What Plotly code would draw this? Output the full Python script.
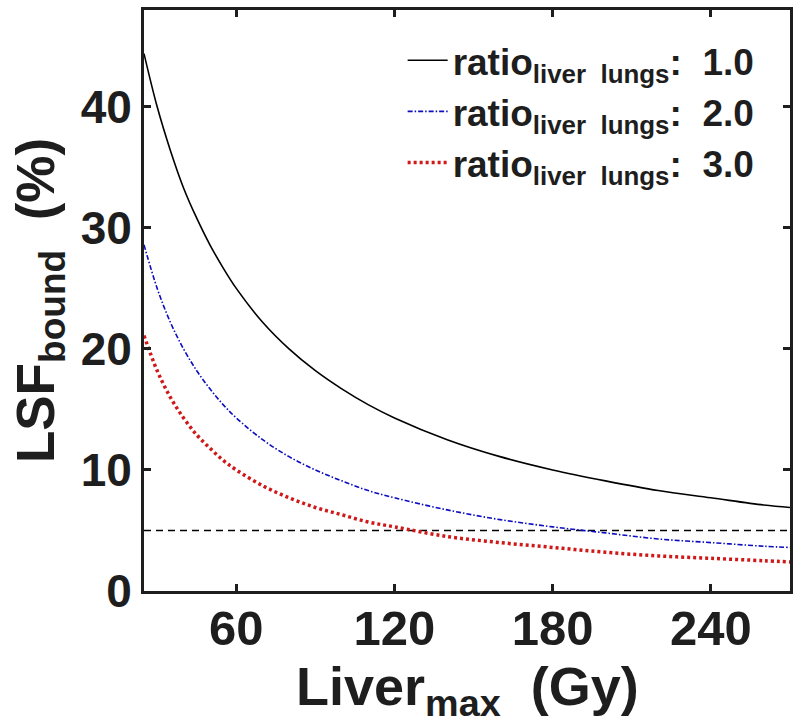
import plotly.graph_objects as go

# Liver_max (Gy)
liver_max = [25, 30, 35, 40, 45, 50, 55, 60, 70, 80, 90, 100, 110, 120, 140, 160, 180, 200, 220, 240, 260, 270]
# LSF_bound (%) for each ratio
lsf_ratio1 = [44.4, 40.0, 36.4, 33.3, 30.8, 28.6, 26.7, 25.0, 22.2, 20.0, 18.2, 16.7, 15.4, 14.3, 12.5, 11.1, 10.0, 9.1, 8.3, 7.7, 7.1, 6.9]
lsf_ratio2 = [28.6, 25.0, 22.2, 20.0, 18.2, 16.7, 15.4, 14.3, 12.5, 11.1, 10.0, 9.1, 8.3, 7.7, 6.7, 5.9, 5.3, 4.8, 4.3, 4.0, 3.7, 3.6]
lsf_ratio3 = [21.1, 18.2, 16.0, 14.3, 12.9, 11.8, 10.8, 10.0, 8.7, 7.7, 6.9, 6.3, 5.7, 5.3, 4.5, 4.0, 3.6, 3.2, 2.9, 2.7, 2.5, 2.4]
threshold_x = [25, 270]
threshold_y = [5, 5]

labels = ["1.0", "2.0", "3.0"]
x_ticks = [60, 120, 180, 240]
y_ticks = [0, 10, 20, 30, 40]

FONT = "Liberation Sans, Arial, sans-serif"
TXT = "#1e1e1e"

fig = go.Figure()
fig.add_trace(go.Scatter(x=threshold_x, y=threshold_y, mode="lines", showlegend=False,
                         line=dict(color="black", width=1.5, dash="7px,5px")))
fig.add_trace(go.Scatter(x=liver_max, y=lsf_ratio1, mode="lines", line_shape="spline",
                         name=f"ratio<sub>liver  lungs</sub>:  {labels[0]}",
                         line=dict(color="black", width=1.6)))
fig.add_trace(go.Scatter(x=liver_max, y=lsf_ratio2, mode="lines", line_shape="spline",
                         name=f"ratio<sub>liver  lungs</sub>:  {labels[1]}",
                         line=dict(color="#0c0cc0", width=1.6, dash="5px,2px,1.5px,2px")))
fig.add_trace(go.Scatter(x=liver_max, y=lsf_ratio3, mode="lines", line_shape="spline",
                         name=f"ratio<sub>liver  lungs</sub>:  {labels[2]}",
                         line=dict(color="#d01818", width=3.5, dash="3px,3px")))

fig.add_annotation(text="Liver<sub>max</sub>  (Gy)", xref="paper", yref="paper",
                   x=0.5, y=0, xanchor="center", yanchor="top", yshift=-63, showarrow=False,
                   font=dict(size=54, family=FONT, color=TXT, weight="bold"))

fig.update_layout(
    width=800, height=728,
    margin=dict(l=144, r=7, t=7, b=137),
    paper_bgcolor="white", plot_bgcolor="white",
    font=dict(family=FONT, color=TXT, weight="bold"),
    legend=dict(x=0.953, y=0.966, xanchor="right", yanchor="top",
                bgcolor="rgba(0,0,0,0)", font=dict(size=37, family=FONT, color=TXT, weight="bold"),
                itemwidth=40, tracegroupgap=0),
    xaxis=dict(range=[25, 270], tickvals=x_ticks, ticks="inside", ticklen=7, tickwidth=3,
               tickcolor=TXT, showline=True, linewidth=3, linecolor=TXT, mirror="ticks",
               showgrid=False, zeroline=False, ticklabelstandoff=-8,
               tickfont=dict(size=49, family=FONT, color=TXT, weight="bold")),
    yaxis=dict(range=[0, 48], tickvals=y_ticks, ticks="inside", ticklen=7, tickwidth=3,
               tickcolor=TXT, showline=True, linewidth=3, linecolor=TXT, mirror="ticks",
               showgrid=False, zeroline=False,
               tickfont=dict(size=46, family=FONT, color=TXT, weight="bold"),
               title=dict(text="LSF<sub>bound</sub>  (%)", standoff=10,
                          font=dict(size=53, family=FONT, color=TXT, weight="bold"))),
)

fig.write_html("out.html")
